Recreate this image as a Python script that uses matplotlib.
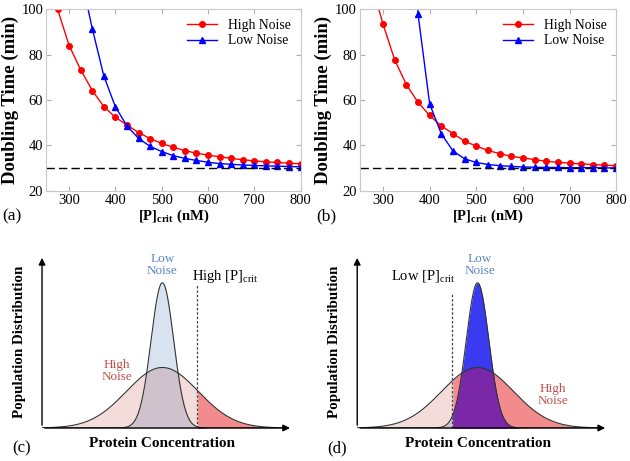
import numpy as np
import matplotlib
matplotlib.use('Agg')
import matplotlib.pyplot as plt

plt.rcParams['font.family'] = ['Liberation Serif', 'DejaVu Serif']
plt.rcParams['mathtext.fontset'] = 'custom'
plt.rcParams['mathtext.rm'] = 'Liberation Serif'
plt.rcParams['mathtext.bf'] = 'Liberation Serif:bold'

# (a) doubling time vs critical concentration
a_x_high = [275, 300, 325, 350, 375, 400, 425, 450, 475, 500, 525, 550, 575, 600,
            625, 650, 675, 700, 725, 750, 775, 800]
a_high = [100, 84, 73.3, 64.2, 57.1, 52.4, 49.0, 45.7, 43.0, 40.9, 39.2, 37.7, 36.6, 35.7,
          35.0, 34.3, 33.7, 33.2, 32.8, 32.5, 32.2, 31.9]
a_x_low = [325, 350, 375, 400, 425, 450, 475, 500, 525, 550, 575, 600,
           625, 650, 675, 700, 725, 750, 775, 800]
a_low = [115, 91.5, 70.6, 57, 48.6, 43.1, 39.6, 37.3, 35.5, 34.3, 33.4, 32.6,
         32.0, 31.7, 31.4, 31.2, 31.0, 30.9, 30.7, 30.6]

# (b)
b_x_high = a_x_high
b_high = [111.7, 93.4, 77.7, 66.8, 59.0, 53.2, 48.6, 45.2, 41.9, 39.7, 37.8, 36.4, 35.2, 34.5,
          33.8, 33.0, 32.6, 32.2, 31.9, 31.6, 31.3, 31.1]
b_x_low = [350, 375, 400, 425, 450, 475, 500, 525, 550, 575, 600,
           625, 650, 675, 700, 725, 750, 775, 800]
b_low = [220, 98, 58.3, 45.1, 37.6, 34.1, 32.5, 31.6, 31.1, 30.8, 30.5,
         30.4, 30.3, 30.3, 30.2, 30.2, 30.2, 30.1, 30.1]

min_doubling = 30

# (c), (d) distribution sketches: (center, width, peak height)
low_noise = (0.48, 0.045, 0.84)
high_noise = (0.48, 0.143, 0.35)
crit_c = 0.62
crit_d = 0.38

fig = plt.figure(figsize=(6.3, 4.61), dpi=100)


def curve_panel(ax, xh, yh, xl, yl, label):
    ax.plot(xh, yh, '-o', color='red', lw=1, ms=4, label='High Noise')
    ax.plot(xl, yl, '-^', color='blue', lw=1, ms=4.5, label='Low Noise')
    ax.axhline(min_doubling, color='black', lw=1, ls=(0, (6, 3)))
    ax.set_xlim(250, 800)
    ax.set_ylim(20, 100)
    ax.set_xticks([300, 400, 500, 600, 700, 800])
    ax.set_yticks([20, 40, 60, 80, 100])
    for s in ax.spines.values():
        s.set_color('#c8c8c8')
        s.set_linewidth(0.8)
    ax.tick_params(direction='in', color='#b0b0b0', labelsize=10.5, top=True, right=True, pad=2)
    ax.set_ylabel('Doubling Time (min)', fontsize=13.5, fontweight='bold', labelpad=2)
    ax.set_xlabel(r'[P]$_{\mathbf{crit}}$ (nM)', fontsize=10.5, fontweight='bold', labelpad=1)
    ax.legend(loc='upper right', frameon=False, fontsize=9.8, handlelength=2.2,
              borderaxespad=0.3, labelspacing=0.2)
    ax.text(-0.17, -0.14, label, transform=ax.transAxes, fontsize=12.5, va='center')


ax1 = fig.add_axes([0.073, 0.586, 0.404, 0.394])
curve_panel(ax1, a_x_high, a_high, a_x_low, a_low, '(a)')
ax2 = fig.add_axes([0.571, 0.586, 0.407, 0.394])
curve_panel(ax2, b_x_high, b_high, b_x_low, b_low, '(b)')


def gauss(x, p):
    c, s, h = p
    return h * np.exp(-0.5 * ((x - c) / s) ** 2)


def dist_panel(ax, crit, crit_text, label, low_pos, high_pos, crit_top, crit_ha):
    x = np.linspace(0, 0.97, 800)
    hi = gauss(x, high_noise)
    lo = gauss(x, low_noise)
    both = np.minimum(hi, lo)
    left = x <= crit
    right = x >= crit
    # light colours left of the critical level
    ax.fill_between(x, hi, where=left, color='#f3dcda', lw=0)
    ax.fill_between(x, lo, where=left, color='#d8e3f0', lw=0)
    ax.fill_between(x, both, where=left, color='#cfc2cd', lw=0)
    # strong colours right of it
    ax.fill_between(x, hi, where=right, color='#f28c8c', lw=0)
    ax.fill_between(x, lo, where=right, color='#3a3af0', lw=0)
    ax.fill_between(x, both, where=right, color='#7a28a8', lw=0)
    ax.plot(x, hi, color='#333333', lw=0.8)
    ax.plot(x, lo, color='#333333', lw=0.8)
    ax.plot([crit, crit], [0, crit_top], color='#444444', lw=0.9, ls=(0, (2, 1.5)))
    ax.annotate('', xy=(1.0, 0), xytext=(0, 0),
                arrowprops=dict(arrowstyle='-|>', color='black', lw=1, mutation_scale=10))
    ax.annotate('', xy=(0, 1.0), xytext=(0, 0),
                arrowprops=dict(arrowstyle='-|>', color='black', lw=1, mutation_scale=10))
    ax.set_xlim(0, 1.0)
    ax.set_ylim(0, 1.0)
    ax.axis('off')
    ax.text(low_pos[0], low_pos[1], 'Low\nNoise', color='#5b86c6', fontsize=9.5,
            ha='center', va='center', linespacing=1.0)
    ax.text(high_pos[0], high_pos[1], 'High\nNoise', color='#c0504d', fontsize=9.5,
            ha='center', va='center', linespacing=1.0)
    tx = crit - 0.02 if crit_ha == 'left' else crit + 0.01
    ax.text(tx, 0.875, crit_text, fontsize=10.5, ha=crit_ha, va='center')
    ax.text(0.48, -0.09, 'Protein Concentration', fontsize=11, fontweight='bold',
            ha='center', va='center', transform=ax.transAxes)
    ax.text(-0.09, 0.5, 'Population Distribution', fontsize=10.8, fontweight='bold',
            ha='center', va='center', rotation=90, transform=ax.transAxes)
    ax.text(-0.12, -0.12, label, fontsize=12, ha='left', va='center', transform=ax.transAxes)


ax3 = fig.add_axes([0.0667, 0.0716, 0.398, 0.375])
dist_panel(ax3, crit_c, r'High [P]$_{\rm crit}$', '(c)', (0.48, 0.94), (0.3, 0.33), 0.83, 'left')
ax4 = fig.add_axes([0.567, 0.0716, 0.398, 0.375])
dist_panel(ax4, crit_d, r'Low [P]$_{\rm crit}$', '(d)', (0.49, 0.94), (0.78, 0.19), 0.78, 'right')

fig.savefig('out.png', dpi=100)
